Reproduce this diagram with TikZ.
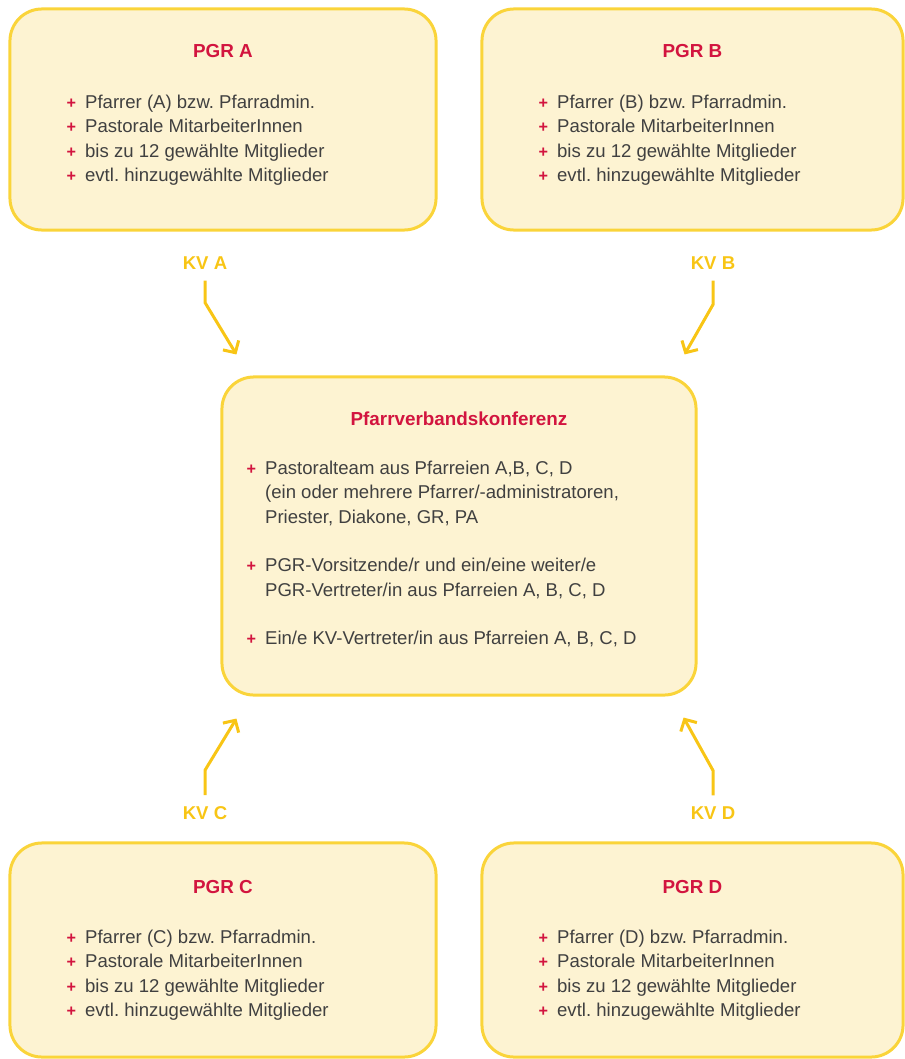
\documentclass[tikz,border=0pt]{standalone}
\usepackage{fontspec}
\setmainfont{Liberation Sans}
\usepackage{tikz}
\usetikzlibrary{positioning,arrows.meta,calc}
\definecolor{cBoxBg}{HTML}{FDF3D2}
\definecolor{cBoxBorder}{HTML}{FAD43A}
\definecolor{cTitle}{HTML}{D2143F}
\definecolor{cText}{HTML}{404040}
\definecolor{cArrow}{HTML}{F8C515}
\frenchspacing
\newcommand{\pl}{\makebox[13.1pt][l]{\textcolor{cTitle}{\fontsize{11.5}{10}\selectfont\bfseries +}}}
\newcommand{\pgrlist}[1]{\begin{tabular}[t]{@{}l@{}l@{}}
  \pl & Pfarrer (#1) bzw. Pfarradmin.\\
  \pl & Pastorale MitarbeiterInnen\\
  \pl & bis zu 12 gewählte Mitglieder\\
  \pl & evtl. hinzugewählte Mitglieder
\end{tabular}}

\begin{document}
\begin{tikzpicture}[
  x=0.025cm, y=-0.025cm,
  every node/.style={font={\fontsize{13.2}{17.3}\selectfont}, text=cText},
  pgrbox/.style={draw=cBoxBorder, fill=cBoxBg, line width=0.075cm, rounded corners=0.8cm,
                 minimum width=10.65cm, minimum height=5.5cm},
  ttl/.style={font={\fontsize{13.4}{17.3}\selectfont\bfseries}, text=cTitle, inner sep=0pt, anchor=base},
  lst/.style={inner sep=0pt, anchor=base west},
  kv/.style={font={\fontsize{13.2}{17.3}\selectfont\bfseries}, text=cArrow, inner sep=0pt, outer sep=0.28cm},
  arr/.style={-{Straight Barb[length=2.2mm, width=4.6mm]}, draw=cArrow, line width=0.075cm},
]
  \useasboundingbox (0,0) rectangle (905,1059);

  % boxes
  \node[pgrbox, minimum height=5.525cm] (pgra) at (223,119.5) {};
  \node[pgrbox, minimum width=10.525cm, minimum height=5.525cm] (pgrb) at (692.5,119.5) {};
  \node[pgrbox, minimum width=11.85cm, minimum height=7.95cm] (konf) at (459,536) {};
  \node[pgrbox, minimum height=5.35cm] (pgrc) at (223,950) {};
  \node[pgrbox, minimum width=10.525cm, minimum height=5.35cm] (pgrd) at (692.5,950) {};

  % titles
  \node[ttl] (pgratitle) at ($(pgra.north)+(0,50)$) {PGR A};
  \node[ttl] (pgrbtitle) at ($(pgrb.north)+(0,50)$) {PGR B};
  \node[ttl] (konftitle) at ($(konf.north)+(0,50)$) {Pfarrverbandskonferenz};
  \node[ttl] (pgrctitle) at ($(pgrc.north)+(0,52)$) {PGR C};
  \node[ttl] (pgrdtitle) at ($(pgrd.north)+(0,52)$) {PGR D};

  % lists
  \node[lst] (pgralist) at ($(pgra.north west)+(58,101)$) {\pgrlist{A}};
  \node[lst] (pgrblist) at ($(pgrb.north west)+(58,101)$) {\pgrlist{B}};
  \node[lst] (pgrclist) at ($(pgrc.north west)+(58,102)$) {\pgrlist{C}};
  \node[lst] (pgrdlist) at ($(pgrd.north west)+(58,102)$) {\pgrlist{D}};
  \node[lst] (konflist) at ($(konf.north west)+(26,99)$) {\begin{tabular}[t]{@{}l@{}l@{}}
    \pl & Pastoralteam aus Pfarreien A,B, C, D\\
        & (ein oder mehrere Pfarrer/-administratoren,\\
        & Priester, Diakone, GR, PA\\
        & \\
    \pl & PGR-Vorsitzende/r und ein/eine weiter/e\\
        & PGR-Vertreter/in aus Pfarreien A, B, C, D\\
        & \\
    \pl & Ein/e KV-Vertreter/in aus Pfarreien A, B, C, D
  \end{tabular}};

  % KV labels
  \node[kv] (kva) at (205,263) {KV A};
  \node[kv] (kvb) at (713,263) {KV B};
  \node[kv] (kvc) at (205,813) {KV C};
  \node[kv] (kvd) at (713,813) {KV D};

  \draw[arr] (kva.south) -- ++(0,22) -- ($(konf.north west)+(16,-21)$);
  \draw[arr] (kvb.south) -- ++(0,24) -- ($(konf.north east)+(-13,-21)$);
  \draw[arr] (kvc.north) -- ++(0,-25) -- ($(konf.south west)+(16,22)$);
  \draw[arr] (kvd.north) -- ++(0,-25) -- ($(konf.south east)+(-14,21)$);
\end{tikzpicture}
\end{document}
